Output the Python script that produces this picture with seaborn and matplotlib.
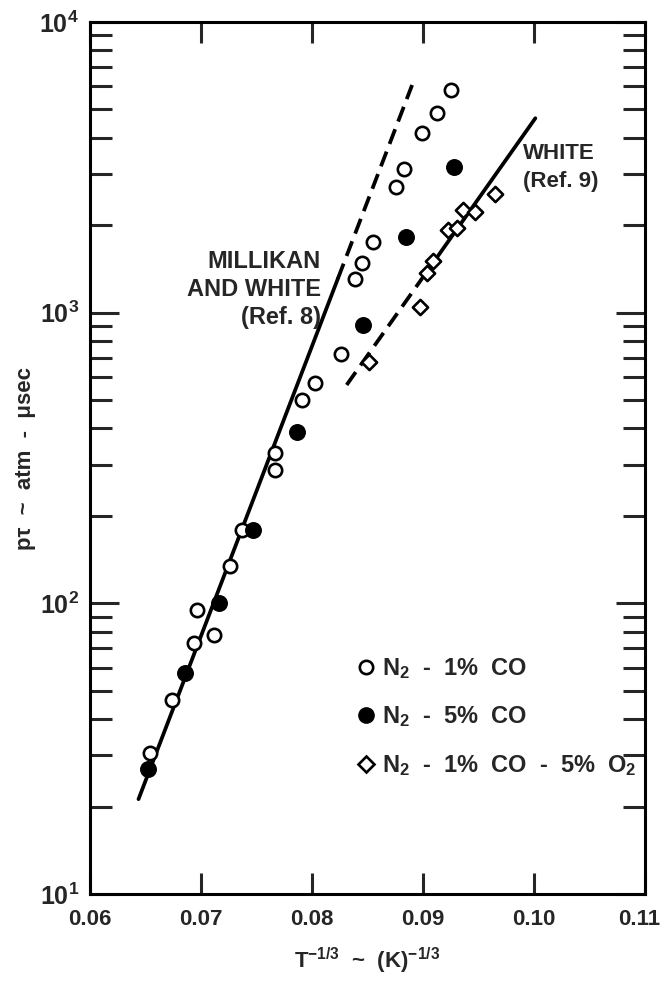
import matplotlib
matplotlib.use("Agg")
import matplotlib.pyplot as plt
import matplotlib.transforms as mtransforms
import seaborn as sns
from matplotlib.lines import Line2D
from matplotlib.ticker import FixedLocator, LogLocator, NullFormatter, FixedFormatter

# ---------------- data ----------------
# N2 - 1% CO (open circles)
co1_x = [0.06540, 0.06740, 0.06937, 0.06960, 0.07119, 0.07264, 0.07368,
         0.07671, 0.07671, 0.07912, 0.08030, 0.08257, 0.08387, 0.08453,
         0.08546, 0.08757, 0.08826, 0.08995, 0.09126, 0.09253]
co1_y = [30.5, 46.5, 72.8, 94.8, 77.8, 134, 179,
         288, 330, 501, 571, 721, 1303, 1487,
         1754, 2698, 3113, 4140, 4853, 5836]

# N2 - 5% CO (filled circles)
co5_x = [0.06523, 0.06857, 0.07164, 0.07471, 0.07868, 0.08462, 0.08847, 0.09281]
co5_y = [26.9, 57.4, 100, 179, 390, 908, 1817, 3178]

# N2 - 1% CO - 5% O2 (diamonds)
o2_x = [0.08516, 0.08973, 0.09033, 0.09087, 0.09228, 0.09303, 0.09363, 0.09468, 0.09650]
o2_y = [679, 1049, 1366, 1510, 1925, 1950, 2254, 2225, 2553]

# Millikan and White (Ref. 8) correlation line: solid part, dashed extension
mw_solid_x = [0.06437, 0.08234]
mw_solid_y = [21.2, 1312]
mw_dash_x = [0.08234, 0.08902]
mw_dash_y = [1312, 6070]

# White (Ref. 9) correlation line: dashed part, solid part
wh_dash_x = [0.08312, 0.09050]
wh_dash_y = [564, 1410]
wh_solid_x = [0.09050, 0.10012]
wh_solid_y = [1410, 4665]

x_ticks = [0.06, 0.07, 0.08, 0.09, 0.10, 0.11]
x_tick_labels = ["0.06", "0.07", "0.08", "0.09", "0.10", "0.11"]
y_ticks = [10, 100, 1000, 10000]
y_tick_labels = [r"$10^{1}$", r"$10^{2}$", r"$10^{3}$", r"$10^{4}$"]

legend_labels = [r"N$_2$  -  1%  CO", r"N$_2$  -  5%  CO",
                 r"N$_2$  -  1%  CO  -  5%  O$_2$"]

# ---------------- style ----------------
sns.set_style("ticks")
plt.rcParams['font.family'] = ['Liberation Sans', 'DejaVu Sans']
plt.rcParams['font.weight'] = 'bold'
plt.rcParams['mathtext.fontset'] = 'custom'
plt.rcParams['mathtext.rm'] = 'Liberation Sans:bold'
plt.rcParams['mathtext.it'] = 'Liberation Sans:bold:italic'
plt.rcParams['mathtext.bf'] = 'Liberation Sans:bold'
plt.rcParams['mathtext.sf'] = 'Liberation Sans:bold'
plt.rcParams['mathtext.default'] = 'regular'

fig = plt.figure(figsize=(6.64, 9.81), dpi=100)
ax = fig.add_axes([90 / 664, 1 - 894 / 981, 555 / 664, 872 / 981])

LW = 2.7
dash = (0, (4.2, 2.2))

sns.lineplot(x=mw_solid_x, y=mw_solid_y, ax=ax, color="black", lw=LW,
             legend=False, zorder=2)
sns.lineplot(x=mw_dash_x, y=mw_dash_y, ax=ax, color="black", lw=LW,
             linestyle=dash, legend=False, zorder=2)
sns.lineplot(x=wh_dash_x, y=wh_dash_y, ax=ax, color="black", lw=LW,
             linestyle=dash, legend=False, zorder=2)
sns.lineplot(x=wh_solid_x, y=wh_solid_y, ax=ax, color="black", lw=LW,
             legend=False, zorder=2)

sns.scatterplot(x=co1_x, y=co1_y, ax=ax, marker="o", s=92, color="white",
                edgecolor="black", linewidth=1.9, zorder=3)
sns.scatterplot(x=co5_x, y=co5_y, ax=ax, marker="o", s=125, color="black",
                edgecolor="black", linewidth=1.0, zorder=3)
sns.scatterplot(x=o2_x, y=o2_y, ax=ax, marker="D", s=60, color="white",
                edgecolor="black", linewidth=1.9, zorder=3)

ax.set_yscale("log")
ax.set_xlim(0.06, 0.11)
ax.set_ylim(10, 10000)

ax.xaxis.set_major_locator(FixedLocator(x_ticks))
ax.xaxis.set_major_formatter(FixedFormatter(x_tick_labels))
ax.yaxis.set_major_locator(FixedLocator(y_ticks))
ax.yaxis.set_major_formatter(FixedFormatter(y_tick_labels))
ax.yaxis.set_minor_locator(LogLocator(base=10, subs=range(2, 10)))
ax.yaxis.set_minor_formatter(NullFormatter())

for s in ax.spines.values():
    s.set_linewidth(2.2)
    s.set_color("black")

ax.tick_params(axis="x", which="major", direction="in", length=15, width=2.2,
               top=True, bottom=True, labelsize=16, pad=11)
ax.tick_params(axis="y", which="major", direction="in", length=21, width=2.2,
               left=True, right=True, labelsize=18, pad=8)
ax.tick_params(axis="y", which="minor", direction="in", length=16, width=2.2,
               left=True, right=True)
for lab in ax.get_xticklabels() + ax.get_yticklabels():
    lab.set_fontweight("bold")

# nudge the last x tick label so it stays inside the figure
fig.canvas.draw()
last = ax.get_xticklabels()[-1]
last.set_transform(last.get_transform() +
                   mtransforms.ScaledTranslation(-6 / 100, 0, fig.dpi_scale_trans))

ax.set_xlabel(r"T$^{-1/3}$  ~  (K)$^{-1/3}$", fontsize=16, fontweight="bold", labelpad=11)
ax.set_ylabel("pτ  ~  atm  -  μsec", fontsize=16, fontweight="bold", labelpad=2)

ax.text(0.0808, 1202, "MILLIKAN\nAND WHITE\n(Ref. 8)", ha="right", va="center",
        multialignment="right", fontsize=17, fontweight="bold", linespacing=1.3)
ax.text(0.0990, 3159, "WHITE\n(Ref. 9)", ha="left", va="center",
        multialignment="left", fontsize=16, fontweight="bold", linespacing=1.45)

handles = [
    Line2D([], [], marker="o", linestyle="none", markersize=9.6,
           markerfacecolor="white", markeredgecolor="black", markeredgewidth=1.9),
    Line2D([], [], marker="o", linestyle="none", markersize=11,
           markerfacecolor="black", markeredgecolor="black"),
    Line2D([], [], marker="D", linestyle="none", markersize=7.8,
           markerfacecolor="white", markeredgecolor="black", markeredgewidth=1.9),
]
leg = ax.legend(handles, legend_labels, loc="upper left", bbox_to_anchor=(0.479, 0.273),
                frameon=False, fontsize=17, handlelength=0.9, handletextpad=0.2,
                labelspacing=1.0, borderpad=0, borderaxespad=0)
for t in leg.get_texts():
    t.set_fontweight("bold")

fig.savefig("out.png", dpi=100, facecolor="white")
